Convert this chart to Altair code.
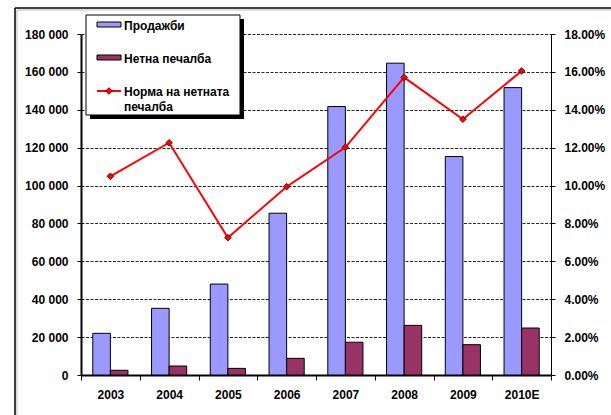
import altair as alt
import pandas as pd

# Yearly figures
years = ["2003", "2004", "2005", "2006", "2007", "2008", "2009", "2010E"]
sales = [22000, 35200, 48000, 85400, 141700, 164600, 115300, 151700]
net_profit = [2500, 4750, 3500, 8800, 17300, 26200, 16000, 24800]
net_margin = [0.1049, 0.1226, 0.0725, 0.0994, 0.1202, 0.1571, 0.1350, 0.1605]

S_SALES = "Продажби"
S_PROFIT = "Нетна печалба"
S_MARGIN = "Норма на нетната печалба"

C_SALES = "#9999FF"
C_PROFIT = "#993366"
C_MARGIN = "#FF0000"

bars_df = pd.DataFrame({
    "year": years * 2,
    "series": [S_SALES] * len(years) + [S_PROFIT] * len(years),
    "value": sales + net_profit,
})
line_df = pd.DataFrame({"year": years, "margin": net_margin})
one = alt.Data(values=[{}])

W, H = 470, 341
FONT = "Liberation Sans"

label_style = dict(labelFontSize=12, labelFontWeight="bold", labelColor="#000", labelFont=FONT)

x_enc = alt.X(
    "year:N", sort=years,
    scale=alt.Scale(paddingInner=0, paddingOuter=0),
    axis=alt.Axis(title=None, labelAngle=0, tickBand="extent", domainWidth=2,
                  domainColor="#000", tickColor="#000", tickSize=5, tickWidth=1,
                  labelPadding=9, grid=False, **label_style),
)

bars = alt.Chart(bars_df).mark_bar(stroke="#000", strokeWidth=1).encode(
    x=x_enc,
    xOffset=alt.XOffset("series:N", sort=[S_SALES, S_PROFIT],
                        scale=alt.Scale(paddingInner=0, paddingOuter=0.67)),
    y=alt.Y("value:Q", scale=alt.Scale(domain=[0, 180000], nice=False),
            axis=alt.Axis(title=None, values=list(range(0, 180001, 20000)),
                          labelExpr="replace(format(datum.value, ',d'), ',', ' ')",
                          domainWidth=2, domainColor="#000", tickColor="#000",
                          tickSize=4, labelPadding=9, grid=True, gridColor="#000",
                          gridDash=[3, 1.5], gridWidth=1, gridOpacity=0.85,
                          **label_style)),
    color=alt.Color("series:N", scale=alt.Scale(domain=[S_SALES, S_PROFIT],
                                                range=[C_SALES, C_PROFIT]),
                    legend=None),
)

line = alt.Chart(line_df).mark_line(
    color=C_MARGIN, strokeWidth=2,
    point=alt.OverlayMarkDef(shape="diamond", filled=True, fill=C_MARGIN,
                             stroke="#400", strokeWidth=0.8, size=45),
).encode(
    x=alt.X("year:N", sort=years),
    y=alt.Y("margin:Q", scale=alt.Scale(domain=[0, 0.18], nice=False),
            axis=alt.Axis(title=None, orient="right", format=".2%",
                          values=[i / 100 for i in range(0, 19, 2)],
                          domainWidth=1, domainColor="#000", tickColor="#000",
                          tickSize=4, labelPadding=9, grid=False, **label_style)),
)

# Outer frame (top and left edges with a soft grey shadow line)
def hrule(x1, x2, y, color, width):
    return alt.Chart(one).mark_rule(color=color, strokeWidth=width).encode(
        x=alt.value(x1), x2=alt.value(x2), y=alt.value(y), y2=alt.value(y))

def vrule(x, y1, y2, color, width):
    return alt.Chart(one).mark_rule(color=color, strokeWidth=width).encode(
        x=alt.value(x), x2=alt.value(x), y=alt.value(y1), y2=alt.value(y2))

frame = [
    hrule(-66, 540, -26, "#000", 1.5),
    hrule(-64, 540, -24, "#bbb", 1),
    vrule(-66, -26, 400, "#000", 1.5),
    vrule(-64, -24, 400, "#bbb", 1),
]

# Legend box with drop shadow
def rect(x1, x2, y1, y2, **kw):
    return alt.Chart(one).mark_rect(**kw).encode(
        x=alt.value(x1), x2=alt.value(x2), y=alt.value(y1), y2=alt.value(y2))

def text(x, y, s):
    return alt.Chart(one).mark_text(
        text=s, align="left", baseline="middle", font=FONT, fontSize=12,
        fontWeight="bold", color="#000", lineHeight=15,
    ).encode(x=alt.value(x), y=alt.value(y))

legend = [
    rect(9, 163, -15, 85, fill="#000"),
    rect(5, 159, -19, 81, fill="#fff", stroke="#000", strokeWidth=1),
    rect(16, 40, -12, -7, fill=C_SALES, stroke="#000", strokeWidth=1),
    text(43, -8, S_SALES),
    rect(16, 40, 21, 26, fill=C_PROFIT, stroke="#000", strokeWidth=1),
    text(43, 25, S_PROFIT),
    hrule(16, 40, 57, C_MARGIN, 2),
    alt.Chart(one).mark_point(shape="diamond", filled=True, fill=C_MARGIN,
                              stroke="#400", strokeWidth=0.8, size=45, opacity=1
                              ).encode(x=alt.value(28), y=alt.value(57)),
    text(43, 58, ["Норма на  нетната", "печалба"]),
]

chart = alt.layer(*frame, bars, line, *legend).resolve_scale(
    y="independent"
).properties(
    width=W, height=H,
    autosize=alt.AutoSizeParams(type="none"),
    padding={"left": 81, "top": 34, "right": 60, "bottom": 40},
    background="#ffffff",
).configure_view(stroke="transparent")

chart.save("out.html", embed_options={"renderer": "svg", "actions": False})
